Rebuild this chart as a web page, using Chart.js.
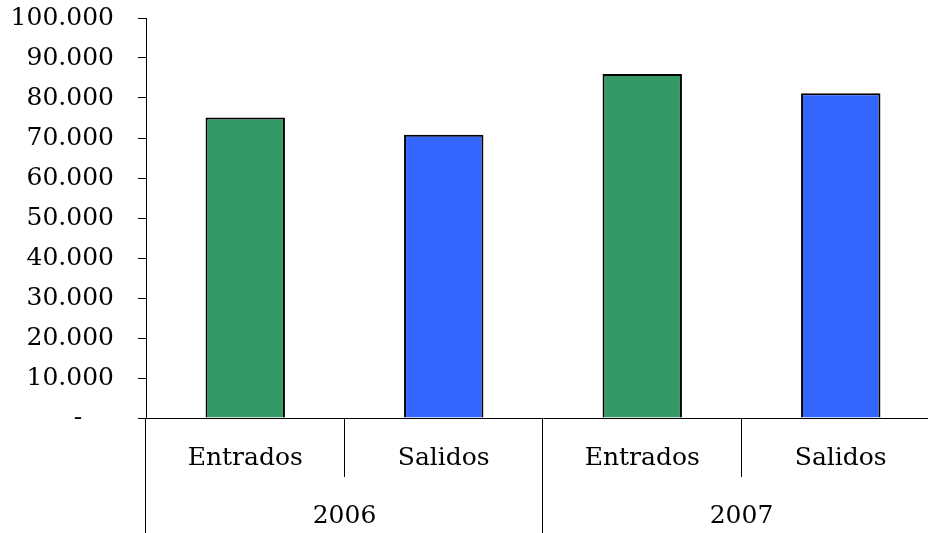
<!DOCTYPE html>
<html>
<head>
<meta charset="utf-8">
<script src="https://cdn.jsdelivr.net/npm/chart.js@4/dist/chart.umd.min.js"></script>
<style>
  html, body { margin: 0; padding: 0; background: #fff; overflow: hidden; }
  #wrap { position: relative; width: 940px; height: 533px; }
</style>
</head>
<body>
<div id="wrap"><canvas id="chart"></canvas></div>
<script>
const categories = ['Entrados', 'Salidos', 'Entrados', 'Salidos'];
const years = ['2006', '2007'];
const values = [75100, 70800, 86000, 81200];
const barColors = ['#339966', '#3366FF', '#339966', '#3366FF'];

const FONT = '"DejaVu Serif", serif';

function fmt(v) {
  if (v === 0) return '-    ';
  return String(v).replace(/\B(?=(\d{3})+(?!\d))/g, '.');
}

// draws the two-level category axis under the plot
const groupAxis = {
  id: 'groupAxis',
  afterDraw(chart) {
    const ctx = chart.ctx;
    const x = chart.scales.x;
    const area = chart.chartArea;
    const base = area.bottom;
    const per = categories.length / years.length;
    ctx.save();
    ctx.strokeStyle = '#000';
    ctx.lineWidth = 1;
    ctx.fillStyle = '#000';
    ctx.font = '25px ' + FONT;
    ctx.textAlign = 'center';
    ctx.textBaseline = 'middle';

    categories.forEach((c, i) => {
      ctx.fillText(c, x.getPixelForValue(i), base + 40);
    });

    for (let i = 0; i <= categories.length; i++) {
      let px;
      if (i === 0) px = area.left;
      else if (i === categories.length) px = area.right;
      else px = (x.getPixelForValue(i - 1) + x.getPixelForValue(i)) / 2;
      px = Math.round(px) - 0.5;
      const full = i % per === 0;
      ctx.beginPath();
      ctx.moveTo(px, base);
      ctx.lineTo(px, full ? chart.height : base + 59);
      ctx.stroke();
    }

    years.forEach((y, g) => {
      const a = x.getPixelForValue(g * per);
      const b = x.getPixelForValue(g * per + per - 1);
      ctx.fillText(y, (a + b) / 2, base + 98);
    });
    ctx.restore();
  }
};

new Chart(document.getElementById('chart'), {
  type: 'bar',
  data: {
    labels: categories,
    datasets: [{
      data: values,
      backgroundColor: barColors,
      borderColor: '#000',
      borderWidth: 2,
      barPercentage: 0.4,
      categoryPercentage: 1
    }]
  },
  options: {
    responsive: true,
    maintainAspectRatio: false,
    animation: false,
    layout: { padding: { top: 18, right: 0, left: 0, bottom: 0 } },
    plugins: { legend: { display: false }, tooltip: { enabled: false } },
    scales: {
      x: {
        ticks: { display: false },
        grid: { display: false },
        border: { color: '#000', width: 1 },
        afterFit(s) { s.height = 115; }
      },
      y: {
        min: 0,
        max: 100000,
        ticks: {
          stepSize: 10000,
          color: '#000',
          padding: 24,
          font: { family: FONT, size: 25 },
          callback: v => fmt(v)
        },
        grid: {
          drawOnChartArea: false,
          drawTicks: true,
          tickLength: 8,
          color: '#000'
        },
        border: { color: '#000', width: 1 },
        afterFit(s) {
          s.width = 146;
          s.paddingTop = 0;
          s.paddingBottom = 0;
        }
      }
    }
  },
  plugins: [groupAxis]
});
</script>
</body>
</html>
